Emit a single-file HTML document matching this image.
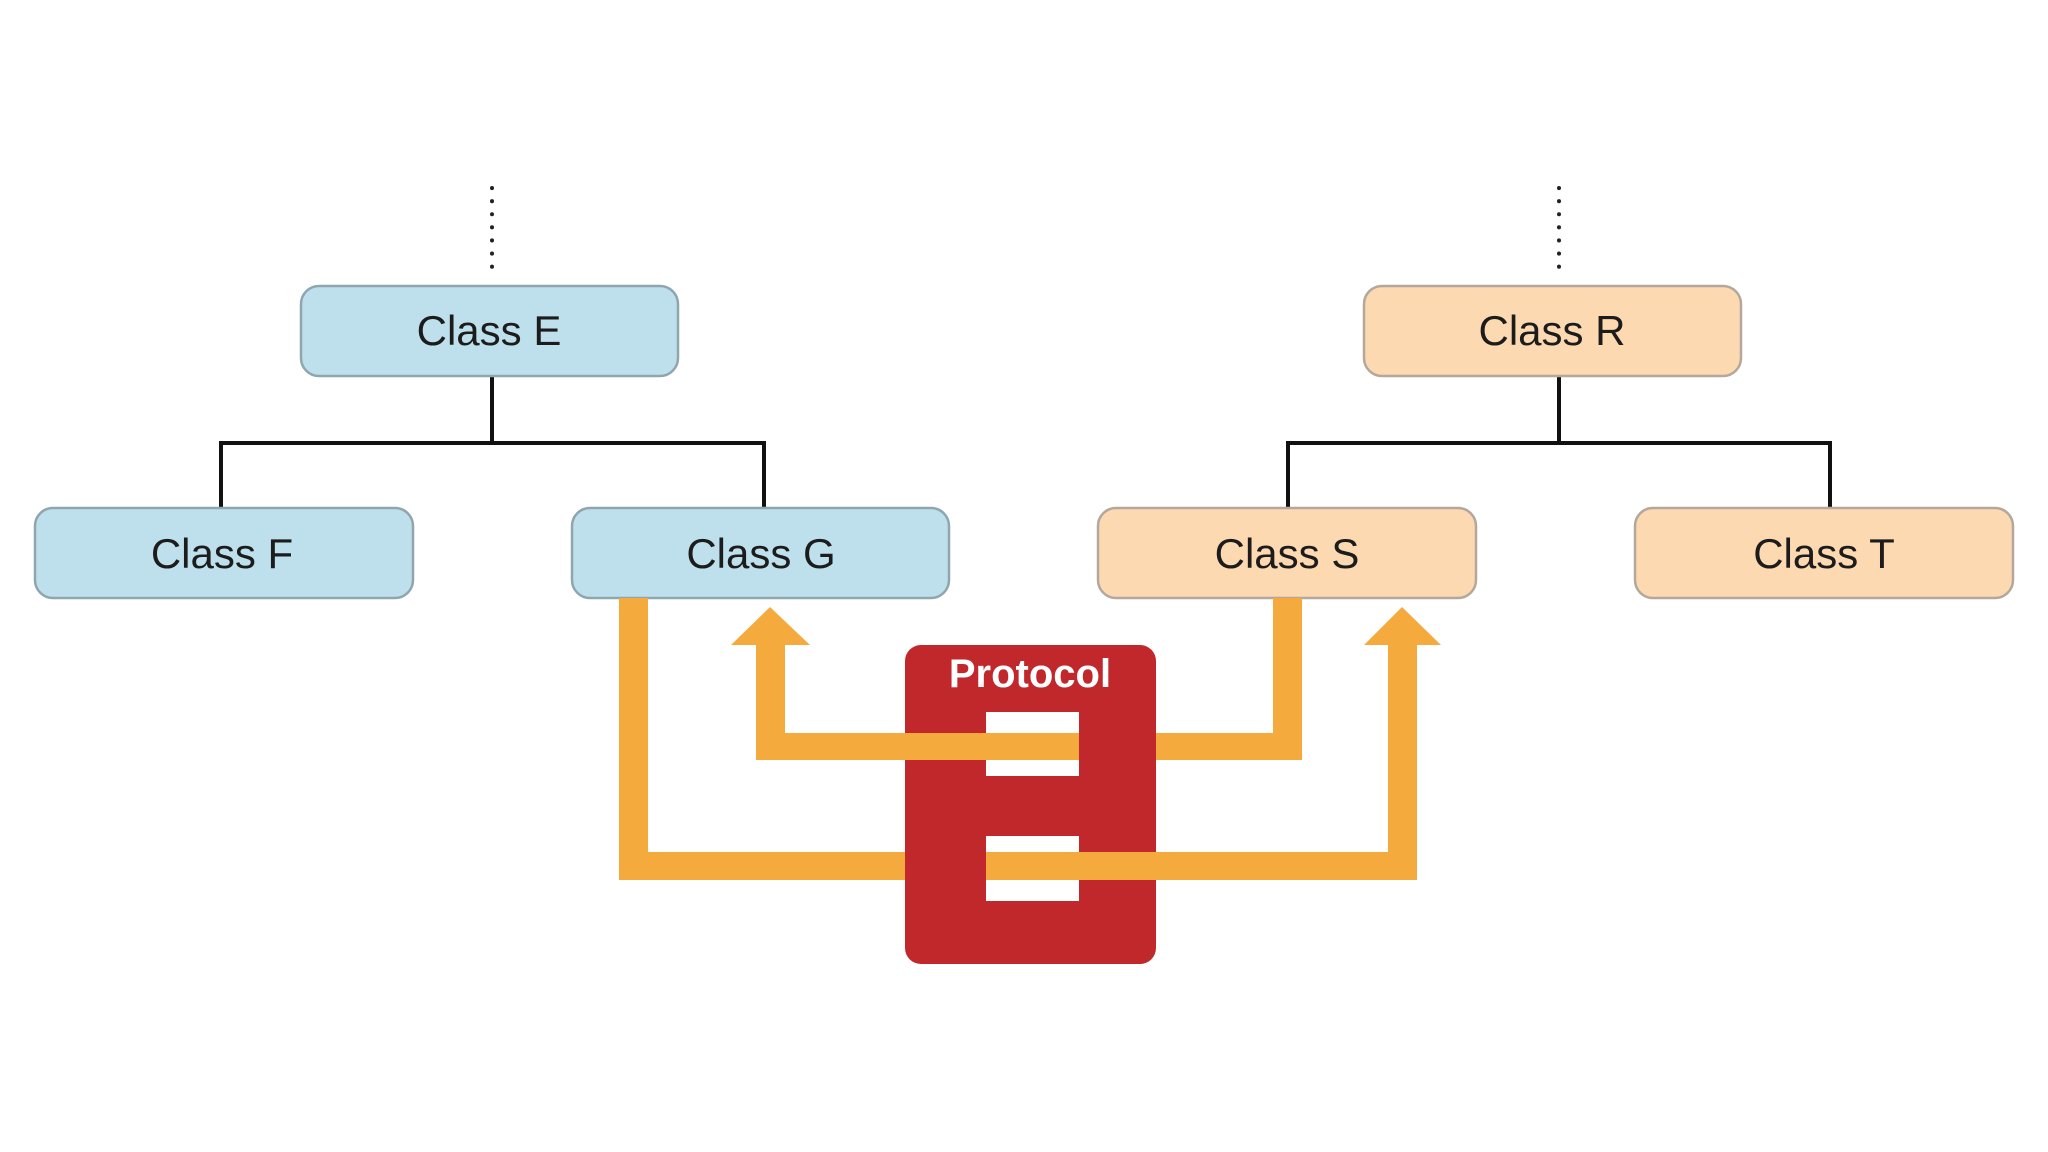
<!DOCTYPE html>
<html><head><meta charset="utf-8"><style>
html,body{margin:0;padding:0;background:#fff;}
svg{display:block;}
text{font-family:"Liberation Sans",Arial,sans-serif;}
</style></head><body>
<svg width="2048" height="1152" viewBox="0 0 2048 1152" xmlns="http://www.w3.org/2000/svg">
<rect width="2048" height="1152" fill="#ffffff"/>
<!-- dotted lines -->
<line x1="492" y1="188" x2="492" y2="276" stroke="#222" stroke-width="4" stroke-linecap="round" stroke-dasharray="0.1 13"/>
<line x1="1559" y1="188" x2="1559" y2="276" stroke="#222" stroke-width="4" stroke-linecap="round" stroke-dasharray="0.1 13"/>
<!-- tree connectors -->
<g stroke="#111" stroke-width="4" fill="none">
<polyline points="492,376 492,443"/>
<polyline points="221,508 221,443 764,443 764,508"/>
<polyline points="1559,376 1559,443"/>
<polyline points="1288,508 1288,443 1830,443 1830,508"/>
</g>
<!-- boxes -->
<g stroke-width="2.5">
<rect x="301" y="286" width="377" height="90" rx="18" fill="#bee0ec" stroke="#8fa6ae"/>
<rect x="35" y="508" width="378" height="90" rx="18" fill="#bee0ec" stroke="#8fa6ae"/>
<rect x="572" y="508" width="377" height="90" rx="18" fill="#bee0ec" stroke="#8fa6ae"/>
<rect x="1364" y="286" width="377" height="90" rx="18" fill="#fcd9b1" stroke="#b3a89b"/>
<rect x="1098" y="508" width="378" height="90" rx="18" fill="#fcd9b1" stroke="#b3a89b"/>
<rect x="1635" y="508" width="378" height="90" rx="18" fill="#fcd9b1" stroke="#b3a89b"/>
</g>
<g font-size="42" fill="#1c1c1c" text-anchor="middle">
<text x="489" y="345">Class E</text>
<text x="222" y="568">Class F</text>
<text x="761" y="568">Class G</text>
<text x="1552" y="345">Class R</text>
<text x="1287" y="568">Class S</text>
<text x="1824" y="568">Class T</text>
</g>
<!-- orange underlays (beneath red box) -->
<g fill="#f5aa3d">
<!-- arrow 1: from G down, across bottom, up to S -->
<rect x="619" y="598" width="29" height="282"/>
<rect x="619" y="852" width="300" height="28"/>
<!-- arrow 2 right segment from S down to top bar -->
<rect x="1273" y="598" width="29" height="162"/>
<rect x="1100" y="733" width="202" height="27"/>
</g>
<!-- protocol box -->
<rect x="905" y="645" width="251" height="319" rx="16" fill="#c1282c"/>
<text x="1030" y="687" font-size="40" font-weight="bold" fill="#fff" text-anchor="middle">Protocol</text>
<rect x="986" y="712" width="93" height="64" fill="#fff"/>
<rect x="986" y="836" width="93" height="65" fill="#fff"/>
<!-- orange overlays -->
<g fill="#f5aa3d">
<!-- top bar from slot to left arrow up into G -->
<rect x="756" y="733" width="323" height="27"/>
<rect x="756" y="640" width="29" height="120"/>
<polygon points="731,645 810,645 770,607"/>
<!-- bottom bar from slot rightwards and up -->
<rect x="986" y="852" width="431" height="28"/>
<rect x="1388" y="640" width="29" height="240"/>
<polygon points="1364,645 1441,645 1402,607"/>
</g>
</svg>
</body></html>
